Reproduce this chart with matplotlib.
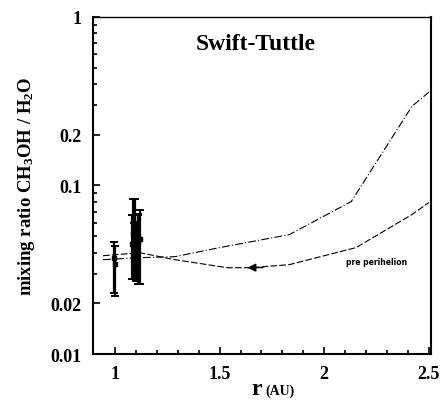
import matplotlib
matplotlib.use('Agg')
import matplotlib.pyplot as plt
from matplotlib.ticker import FixedLocator, NullFormatter, LogLocator

plt.rcParams['font.family'] = ['Liberation Serif', 'DejaVu Serif']
plt.rcParams['font.weight'] = 'bold'
plt.rcParams['mathtext.fontset'] = 'custom'
plt.rcParams['mathtext.rm'] = 'Liberation Serif:bold'
plt.rcParams['mathtext.bf'] = 'Liberation Serif:bold'
plt.rcParams['mathtext.it'] = 'Liberation Serif:bold'

# post perihelion model curve (dash-dot)
r_post = [0.943, 1.119, 1.286, 1.50, 1.833, 2.129, 2.419, 2.50]
mix_post = [0.0363, 0.0373, 0.0378, 0.0428, 0.0511, 0.0803, 0.295, 0.358]

# pre perihelion model curve (dashed)
r_pre = [0.943, 1.119, 1.286, 1.538, 1.643, 1.833, 2.152, 2.419, 2.50]
mix_pre = [0.0383, 0.0399, 0.0363, 0.0325, 0.0325, 0.0339, 0.0428, 0.0672, 0.0792]

# observations
r_obs = [0.995, 1.000, 1.080, 1.085, 1.090, 1.095, 1.100, 1.108, 1.112, 1.120]
mix_obs = [0.037, 0.034, 0.045, 0.052, 0.040, 0.056, 0.043, 0.050, 0.046, 0.048]
err_lo = [0.014, 0.012, 0.017, 0.024, 0.012, 0.024, 0.016, 0.024, 0.020, 0.022]
err_hi = [0.009, 0.010, 0.022, 0.031, 0.020, 0.027, 0.018, 0.018, 0.021, 0.024]

yticks = [0.01, 0.02, 0.1, 0.2, 1]
ytick_labels = ['0.01', '0.02', '0.1', '0.2', '1']
xticks = [1, 1.5, 2, 2.5]
xtick_labels = ['1', '1.5', '2', '2.5']

fig = plt.figure(figsize=(4.48, 4.06), dpi=100)
ax = fig.add_axes([0.2076, 0.1256, 0.7544, 0.8301])

ax.plot(r_post, mix_post, color='black', lw=0.8, linestyle=(0, (7, 2, 1, 2)))
ax.plot(r_pre, mix_pre, color='black', lw=0.8, linestyle=(0, (6, 2)))
ax.errorbar(r_obs, mix_obs, yerr=[err_lo, err_hi], fmt='s', color='black',
            ms=3, elinewidth=1.6, capsize=3, capthick=1.4)

ax.annotate('', xy=(1.62, 0.0325), xytext=(1.72, 0.0326),
            arrowprops=dict(arrowstyle='-|>', color='black', lw=1.0,
                            mutation_scale=12))
ax.text(2.105, 0.0353, 'pre perihelion', fontsize=5.5, fontweight='bold',
        family='DejaVu Sans', va='center')

ax.set_yscale('log')
ax.set_xlim(0.895, 2.51)
ax.set_ylim(0.01, 1)

ax.yaxis.set_major_locator(FixedLocator(yticks))
ax.set_yticklabels(ytick_labels, fontsize=13, fontweight='bold')
ax.yaxis.set_minor_locator(LogLocator(base=10, subs=range(2, 10)))
ax.yaxis.set_minor_formatter(NullFormatter())

ax.xaxis.set_major_locator(FixedLocator(xticks))
ax.set_xticklabels(xtick_labels, fontsize=13, fontweight='bold')
ax.xaxis.set_minor_locator(FixedLocator([1.1, 1.2, 1.3, 1.4, 1.6, 1.7, 1.8, 1.9,
                                         2.1, 2.2, 2.3, 2.4]))

ax.tick_params(which='both', direction='in', top=False, right=False, width=1.2)
ax.tick_params(which='major', length=5, pad=8)
ax.tick_params(which='minor', length=3)

for side in ['left', 'bottom', 'right']:
    ax.spines[side].set_linewidth(1.5)
ax.spines['top'].set_linewidth(1.0)

ax.text(0.482, 0.92, 'Swift-Tuttle', transform=ax.transAxes, ha='center',
        va='center', fontsize=17, fontweight='bold')

ax.set_ylabel('mixing ratio CH$_3$OH / H$_2$O', fontsize=13.5,
              fontweight='bold')
ax.yaxis.set_label_coords(-0.165, 0.5)

fig.text(0.585, 0.027, 'r', fontsize=17, fontweight='bold', ha='right', va='baseline')
fig.text(0.592, 0.027, '(AU)', fontsize=10, fontweight='bold', ha='left', va='baseline')

fig.savefig('out.png', dpi=100)
